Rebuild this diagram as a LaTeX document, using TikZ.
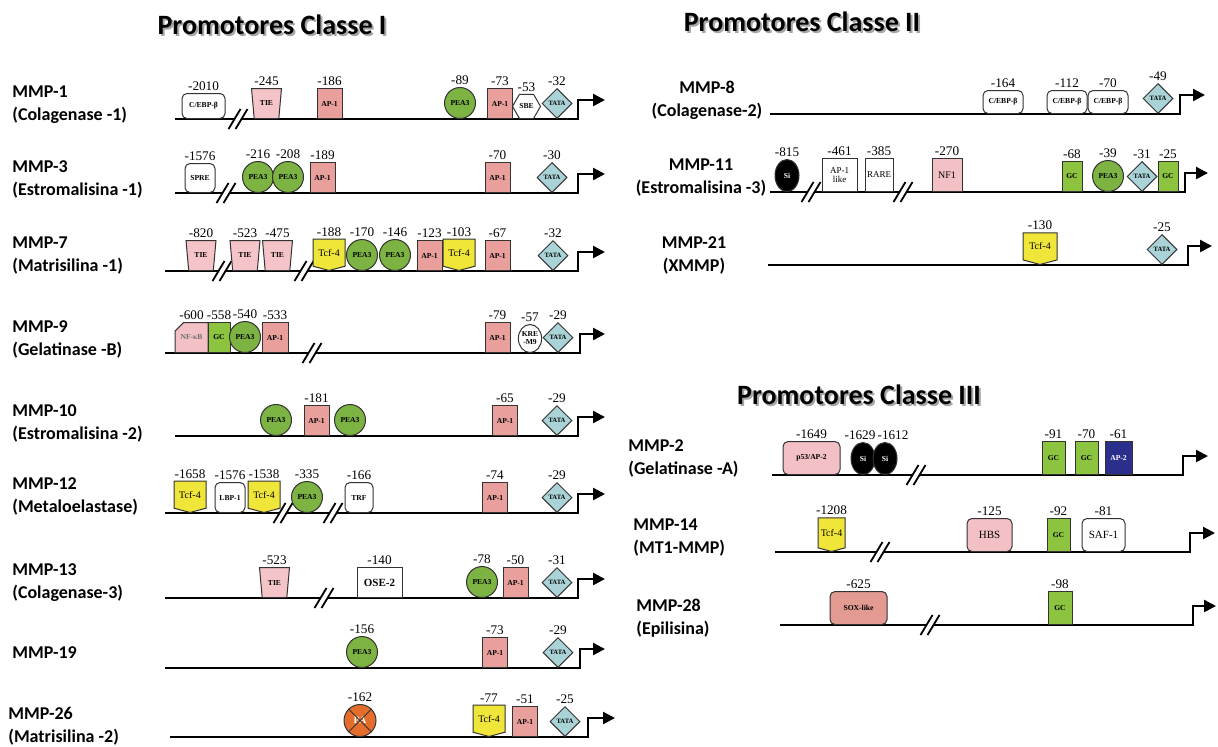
\documentclass[tikz,border=0pt]{standalone}
\usepackage{fontspec}
\setmainfont{Liberation Serif}
\newfontfamily\calibri{Carlito}
\usepackage{tikz}
\usetikzlibrary{arrows.meta,shapes.geometric,shapes.misc,shapes.symbols}
\definecolor{DarkGrey}{HTML}{333333}
\definecolor{ApPink}{HTML}{E9A09C}
\definecolor{TiePink}{HTML}{F4C4C8}
\definecolor{LightPink}{HTML}{F3C0C6}
\definecolor{SoxRed}{HTML}{E39A90}
\definecolor{PeaGreen}{HTML}{7CB342}
\definecolor{GcGreen}{HTML}{8CC43F}
\definecolor{TcfYellow}{HTML}{F0E63A}
\definecolor{TataBlue}{HTML}{A9D3D6}
\definecolor{Ap2Blue}{HTML}{2B2F8C}
\definecolor{PaOrange}{HTML}{E46D2C}
\newcommand\ElH{15pt}
\newcommand\BigH{16.5pt}
\newcommand\ApW{12.5pt}
% break mark on a promoter line
\newcommand\Cut[2]{%
  \fill[white] (#1-3.5,#2-2.5) rectangle (#1+3.5,#2+2.5);
  \draw[line width=0.9pt] (#1-9.5,#2+10) -- (#1+2.5,#2-10);
  \draw[line width=0.9pt] (#1-2.5,#2+10) -- (#1+9.5,#2-10);}
\tikzstyle{dna}=[line width=1.2pt,-{Triangle[length=6pt,width=6pt]}]
\tikzstyle{el}=[draw=DarkGrey,line width=0.5pt,inner sep=0pt,anchor=south,
                minimum height=\ElH,font=\fontsize{3.8}{4}\selectfont\bfseries]
\tikzstyle{num}=[font=\fontsize{6.6}{7}\selectfont,inner sep=1pt]
\tikzstyle{ap}=[el,rectangle,fill=ApPink,minimum width=\ApW]
\tikzstyle{gc}=[el,rectangle,fill=GcGreen,minimum width=11pt]
\tikzstyle{wbox}=[el,rectangle,fill=white]
\tikzstyle{rbox}=[el,rectangle,rounded corners=2.5pt,fill=white]
\tikzstyle{tie}=[el,trapezium,shape border rotate=180,trapezium stretches=true,
                 trapezium angle=74,fill=TiePink,minimum width=15pt]
\tikzstyle{pea}=[el,circle,fill=PeaGreen,minimum size=15.5pt]
\tikzstyle{tata}=[el,diamond,fill=TataBlue,minimum size=15pt,font=\fontsize{3.3}{4}\selectfont\bfseries]
\tikzstyle{tcf}=[el,signal,signal to=south,signal pointer angle=150,fill=TcfYellow,minimum width=16pt,
                 font=\fontsize{5}{5}\selectfont]
\tikzstyle{si}=[el,ellipse,fill=black,text=white,minimum width=12pt,minimum height=16pt]
\tikzstyle{gene}=[font=\calibri\bfseries\fontsize{9}{11.5}\selectfont,align=left,anchor=west,inner sep=0pt]
\tikzstyle{ttl}=[font=\calibri\bfseries\fontsize{14}{16}\selectfont,inner sep=0pt]

\begin{document}
\begin{tikzpicture}[x=0.5pt,y=-0.5pt]
  \useasboundingbox (0,0) rectangle (1218,746);
  % titles
  \node[ttl,text=black!35] (t1s) at (274,27) {Promotores Classe I};
  \node[ttl] (t1) at (272,25) {Promotores Classe I};
  \node[ttl,text=black!35] (t2s) at (804,24) {Promotores Classe II};
  \node[ttl] (t2) at (802,22) {Promotores Classe II};
  \node[ttl,text=black!35] (t3s) at (861,397) {Promotores Classe III};
  \node[ttl] (t3) at (859,395) {Promotores Classe III};

  % MMP-1
  \node[gene] (g1) at (12,104.5) {MMP-1\\(Colagenase -1)};
  \coordinate (m1s) at (175,119); \coordinate (m1e) at (578,119); \coordinate (m1t) at (605,100);
  \draw[dna] (m1s) -- (m1e) |- (m1t);
  \Cut{238}{119}
  \node[rbox,minimum width=21.5pt,minimum height=12.5pt,label distance=2.5pt,label={[num]-2010}] (m1cebp) at (203.5,119) {C/EBP-β};
  \node[tie,label={[num]-245}] (m1tie) at (266.5,119) {TIE};
  \node[ap,label={[num]-186}] (m1apa) at (329.5,119) {AP-1};
  \node[pea,label={[num]-89}] (m1pea) at (460,119) {PEA3};
  \node[ap,label={[num]-73}] (m1apb) at (500,119) {AP-1};
  \node[el,regular polygon,regular polygon sides=6,fill=white,minimum size=14pt,label={[num]-53}] (m1sbe) at (526.5,119) {SBE};
  \node[tata,label={[num]-32}] (m1tata) at (557,119) {TATA};

  % MMP-3
  \node[gene] (g3) at (12,179) {MMP-3\\(Estromalisina -1)};
  \coordinate (m3s) at (175,193); \coordinate (m3e) at (578,193); \coordinate (m3t) at (605,174);
  \draw[dna] (m3s) -- (m3e) |- (m3t);
  \Cut{226}{193}
  \node[rbox,minimum width=15pt,minimum height=14.5pt,label={[num]-1576}] (m3spre) at (200,193) {SPRE};
  \node[pea,label={[num]-216}] (m3peaa) at (258,193) {PEA3};
  \node[pea,label={[num]-208}] (m3peab) at (288,193) {PEA3};
  \node[ap,label={[num]-189}] (m3apa) at (322.5,193) {AP-1};
  \node[ap,label={[num]-70}] (m3apb) at (497.5,193) {AP-1};
  \node[tata,label={[num]-30}] (m3tata) at (552,193) {TATA};

  % MMP-7
  \node[gene] (g7) at (12,256) {MMP-7\\(Matrisilina -1)};
  \coordinate (m7s) at (165,271); \coordinate (m7e) at (578,271); \coordinate (m7t) at (605,252);
  \draw[dna] (m7s) -- (m7e) |- (m7t);
  \Cut{222}{271}
  \Cut{304}{271}
  \node[tie,label={[num]-820}] (m7tiea) at (201,271) {TIE};
  \node[tie,label={[num]-523}] (m7tieb) at (245,271) {TIE};
  \node[tie,label={[num]-475}] (m7tiec) at (277.5,271) {TIE};
  \node[tcf,label={[num]-188}] (m7tcfa) at (329,271) {Tcf-4};
  \node[pea,label={[num]-170}] (m7peaa) at (362,271) {PEA3};
  \node[pea,label={[num]-146}] (m7peab) at (395,271) {PEA3};
  \node[ap,label={[num]-123}] (m7apa) at (429.5,271) {AP-1};
  \node[tcf,label={[num]-103}] (m7tcfb) at (459,271) {Tcf-4};
  \node[ap,label={[num]-67}] (m7apb) at (497.5,271) {AP-1};
  \node[tata,label={[num]-32}] (m7tata) at (553,271) {TATA};

  % MMP-9
  \node[gene] (g9) at (12,339.5) {MMP-9\\(Gelatinase -B)};
  \coordinate (m9s) at (165,353); \coordinate (m9e) at (580,353); \coordinate (m9t) at (605,334);
  \draw[dna] (m9s) -- (m9e) |- (m9t);
  \Cut{312}{353}
  \node[el,chamfered rectangle,chamfered rectangle corners=north west,chamfered rectangle xsep=3pt,
        fill=LightPink,text=DarkGrey!70,minimum width=16.5pt,label={[num]-600}] (m9nfkb) at (191.5,353) {NF-κB};
  \node[gc,label={[num]-558}] (m9gc) at (219,353) {GC};
  \node[pea,label={[num]-540}] (m9pea) at (245,353) {PEA3};
  \node[ap,minimum width=13pt,label={[num]-533}] (m9apa) at (275,353) {AP-1};
  \node[ap,label={[num]-79}] (m9apb) at (497.5,353) {AP-1};
  \node[el,ellipse,fill=white,minimum width=11pt,minimum height=14pt,align=center,label={[num]-57}] (m9kre) at (530,353) {KRE\\-M9};
  \node[tata,label={[num]-29}] (m9tata) at (558,353) {TATA};

  % MMP-10
  \node[gene] (g10) at (12,423.5) {MMP-10\\(Estromalisina -2)};
  \coordinate (m10s) at (175,436); \coordinate (m10e) at (578,436); \coordinate (m10t) at (605,417);
  \draw[dna] (m10s) -- (m10e) |- (m10t);
  \node[pea] (m10peaa) at (276,436) {PEA3};
  \node[ap,label={[num]-181}] (m10apa) at (316.5,436) {AP-1};
  \node[pea] (m10peab) at (350,436) {PEA3};
  \node[ap,label={[num]-65}] (m10apb) at (505,436) {AP-1};
  \node[tata,label={[num]-29}] (m10tata) at (557,436) {TATA};

  % MMP-12
  \node[gene] (g12) at (12,496.5) {MMP-12\\(Metaloelastase)};
  \coordinate (m12s) at (165,513); \coordinate (m12e) at (578,513); \coordinate (m12t) at (605,494);
  \draw[dna] (m12s) -- (m12e) |- (m12t);
  \node[tcf,label={[num]-1658}] (m12tcfa) at (190,513) {Tcf-4};
  \node[rbox,minimum width=15pt,label={[num]-1576}] (m12lbp) at (230,513) {LBP-1};
  \node[tcf,label={[num]-1538}] (m12tcfb) at (264,513) {Tcf-4};
  \Cut{283}{513}
  \Cut{333}{513}
  \node[pea,label={[num]-335}] (m12pea) at (307,513) {PEA3};
  \node[rbox,minimum width=14pt,label={[num]-166}] (m12trf) at (359,513) {TRF};
  \node[ap,label={[num]-74}] (m12ap) at (495,513) {AP-1};
  \node[tata,label={[num]-29}] (m12tata) at (557,513) {TATA};

  % MMP-13
  \node[gene] (g13) at (12,583) {MMP-13\\(Colagenase-3)};
  \coordinate (m13s) at (165,598); \coordinate (m13e) at (578,598); \coordinate (m13t) at (605,579);
  \draw[dna] (m13s) -- (m13e) |- (m13t);
  \Cut{324}{598}
  \node[tie,label={[num]-523}] (m13tie) at (274.5,598) {TIE};
  \node[wbox,minimum width=22.5pt,font=\fontsize{5.5}{6}\selectfont\bfseries,label={[num]-140}] (m13ose) at (379.5,598) {OSE-2};
  \node[pea,label={[num]-78}] (m13pea) at (482,598) {PEA3};
  \node[ap,label={[num]-50}] (m13ap) at (515.5,598) {AP-1};
  \node[tata,label={[num]-31}] (m13tata) at (557,598) {TATA};

  % MMP-19
  \node[gene] (g19) at (12,653) {MMP-19};
  \coordinate (m19s) at (165,668); \coordinate (m19e) at (580,668); \coordinate (m19t) at (605,649);
  \draw[dna] (m19s) -- (m19e) |- (m19t);
  \node[pea,label={[num]-156}] (m19pea) at (362,668) {PEA3};
  \node[ap,label={[num]-73}] (m19ap) at (495,668) {AP-1};
  \node[tata,label={[num]-29}] (m19tata) at (558,668) {TATA};

  % MMP-26
  \node[gene] (g26) at (8,726.5) {MMP-26\\(Matrisilina -2)};
  \coordinate (m26s) at (170,737); \coordinate (m26e) at (588,737); \coordinate (m26t) at (615,718);
  \draw[dna] (m26s) -- (m26e) |- (m26t);
  \node[el,circle,fill=PaOrange,text=white,minimum size=16pt,font=\fontsize{5}{5}\selectfont\bfseries,label={[num]-162}] (m26pa) at (360,737) {PA};
  \draw[DarkGrey,line width=0.5pt] (m26pa.north west) -- (m26pa.south east) (m26pa.north east) -- (m26pa.south west);
  \node[tcf,label={[num]-77}] (m26tcf) at (489,737) {Tcf-4};
  \node[ap,label={[num]-51}] (m26ap) at (525,737) {AP-1};
  \node[tata,label={[num]-25}] (m26tata) at (565,737) {TATA};

  % MMP-8
  \node[gene,align=center,anchor=center] (g8) at (707,100.5) {MMP-8\\(Colagenase-2)};
  \coordinate (m8s) at (770,114); \coordinate (m8e) at (1180,114); \coordinate (m8t) at (1205,95);
  \draw[dna] (m8s) -- (m8e) |- (m8t);
  \node[rbox,minimum width=20pt,minimum height=11.5pt,label distance=3pt,label={[num]-164}] (m8cebpa) at (1003,114) {C/EBP-β};
  \node[rbox,minimum width=20pt,minimum height=11.5pt,label distance=3pt,label={[num]-112}] (m8cebpb) at (1067,114) {C/EBP-β};
  \node[rbox,minimum width=20pt,minimum height=11.5pt,label distance=3pt,label={[num]-70}] (m8cebpc) at (1108,114) {C/EBP-β};
  \node[tata,label={[num]-49}] (m8tata) at (1158,114) {TATA};

  % MMP-11
  \node[gene,align=center,anchor=center] (g11) at (701,177.5) {MMP-11\\(Estromalisina -3)};
  \coordinate (m11s) at (770,192); \coordinate (m11e) at (1185,192); \coordinate (m11t) at (1208,173);
  \draw[dna] (m11s) -- (m11e) |- (m11t);
  \Cut{811}{192}
  \Cut{903}{192}
  \node[si,label={[num]-815}] (m11si) at (787,192) {Si};
  \node[wbox,minimum width=17.5pt,minimum height=\BigH,align=center,font=\fontsize{4.5}{4.5}\selectfont,label={[num]-461}] (m11ap) at (839.5,192) {AP-1\\like};
  \node[wbox,minimum width=14pt,minimum height=\BigH,font=\fontsize{4.5}{4.5}\selectfont,label={[num]-385}] (m11rare) at (879,192) {RARE};
  \node[el,rectangle,fill=LightPink,minimum width=15pt,minimum height=\BigH,font=\fontsize{5}{5}\selectfont,label={[num]-270}] (m11nf1) at (947,192) {NF1};
  \node[gc,minimum width=10pt,label={[num]-68}] (m11gca) at (1072,192) {GC};
  \node[pea,label={[num]-39}] (m11pea) at (1108,192) {PEA3};
  \node[tata,label={[num]-31}] (m11tata) at (1142,192) {TATA};
  \node[gc,minimum width=10pt,label={[num]-25}] (m11gcb) at (1168,192) {GC};

  % MMP-21
  \node[gene,align=center,anchor=center] (g21) at (694,255.5) {MMP-21\\(XMMP)};
  \coordinate (m21s) at (768,265); \coordinate (m21e) at (1188,265); \coordinate (m21t) at (1212,246);
  \draw[dna] (m21s) -- (m21e) |- (m21t);
  \node[tcf,minimum width=17pt,label={[num]-130}] (m21tcf) at (1040,265) {Tcf-4};
  \node[tata,label={[num]-25}] (m21tata) at (1162,265) {TATA};

  % MMP-2
  \node[gene] (g2) at (628,458.5) {MMP-2\\(Gelatinase -A)};
  \coordinate (m2s) at (772,475); \coordinate (m2e) at (1183,475); \coordinate (m2t) at (1208,456);
  \draw[dna] (m2s) -- (m2e) |- (m2t);
  \Cut{916}{475}
  \node[rbox,fill=LightPink,minimum width=28.5pt,minimum height=\BigH,label={[num]-1649}] (m2p53) at (811.5,475) {p53/AP-2};
  \node[si,label={[num,xshift=-1.5pt]-1629}] (m2sia) at (863,475) {Si};
  \node[si,label={[num,xshift=4pt]-1612}] (m2sib) at (885,475) {Si};
  \node[gc,minimum width=11.5pt,minimum height=\BigH,label={[num]-91}] (m2gca) at (1053.5,475) {GC};
  \node[gc,minimum width=11.5pt,minimum height=\BigH,label={[num]-70}] (m2gcb) at (1086.5,475) {GC};
  \node[el,rectangle,fill=Ap2Blue,text=white,minimum width=13.5pt,minimum height=\BigH,label={[num]-61}] (m2ap) at (1118.5,475) {AP-2};

  % MMP-14
  \node[gene] (g14) at (633,537) {MMP-14\\(MT1-MMP)};
  \coordinate (m14s) at (775,552); \coordinate (m14e) at (1190,552); \coordinate (m14t) at (1215,533);
  \draw[dna] (m14s) -- (m14e) |- (m14t);
  \Cut{880}{552}
  \node[tcf,minimum width=13.5pt,minimum height=\BigH,label={[num]-1208}] (m14tcf) at (831.5,552) {Tcf-4};
  \node[rbox,fill=LightPink,minimum width=22.5pt,minimum height=\BigH,font=\fontsize{5.5}{6}\selectfont,label={[num]-125}] (m14hbs) at (989.5,552) {HBS};
  \node[gc,minimum width=11.5pt,minimum height=\BigH,label={[num]-92}] (m14gc) at (1058.5,552) {GC};
  \node[rbox,minimum width=21.5pt,minimum height=\BigH,font=\fontsize{5.5}{6}\selectfont,label={[num]-81}] (m14saf) at (1103.5,552) {SAF-1};

  % MMP-28
  \node[gene] (g28) at (636,618) {MMP-28\\(Epilisina)};
  \coordinate (m28s) at (780,625); \coordinate (m28e) at (1193,625); \coordinate (m28t) at (1216,606);
  \draw[dna] (m28s) -- (m28e) |- (m28t);
  \Cut{930}{625}
  \node[rbox,fill=SoxRed,minimum width=28.5pt,minimum height=\BigH,label={[num]-625}] (m28sox) at (858.5,625) {SOX-like};
  \node[gc,minimum width=12pt,minimum height=\BigH,label={[num]-98}] (m28gc) at (1060,625) {GC};
\end{tikzpicture}
\end{document}
